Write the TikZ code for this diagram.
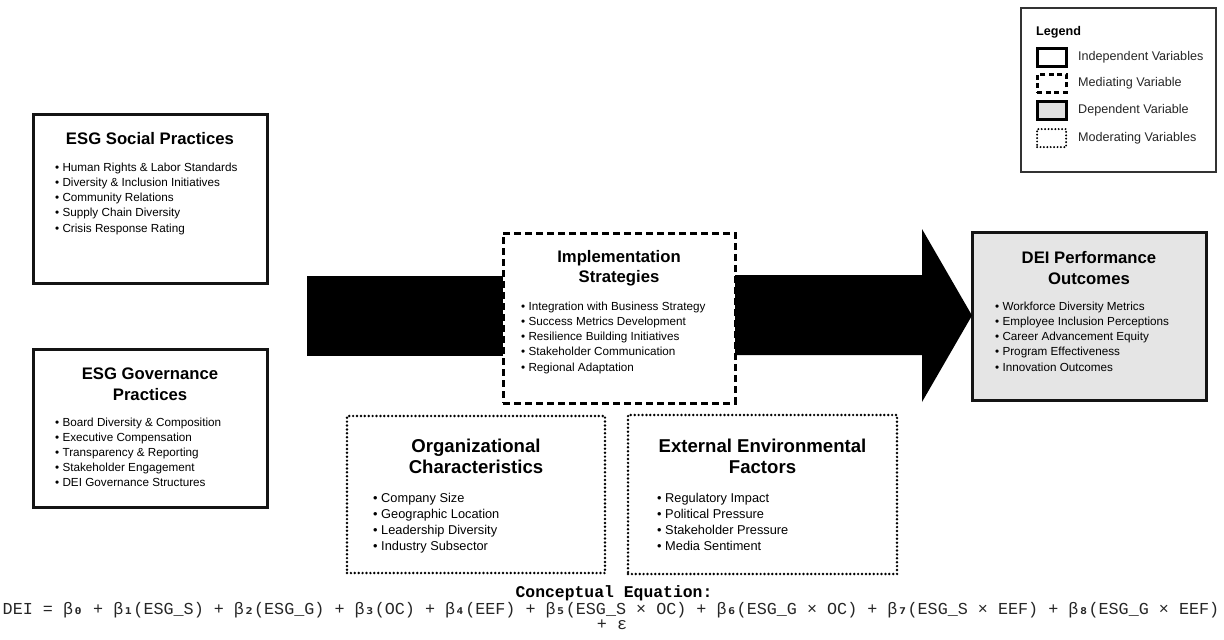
\documentclass[tikz,border=0pt]{standalone}
\usepackage{fontspec}
\setmainfont{Liberation Sans}
\newfontfamily\eqmono{Liberation Mono}
\newfontfamily\submono{DejaVu Sans Mono}
\newcommand\sbs[1]{{\submono\bfseries #1}}
\begin{document}
\begin{tikzpicture}[x=1pt,y=-1pt,
  box/.style={anchor=north west, inner sep=0pt, outer sep=0pt},
  indep/.style={box, draw=black!92, line width=3pt, fill=white},
  medi/.style={box, draw=black, line width=3pt, dash pattern=on 7pt off 4pt, fill=white},
  depv/.style={box, draw=black!92, line width=3pt, fill=black!10},
  modv/.style={box, draw=black, line width=2.7pt, dash pattern=on 0pt off 3.9pt, line cap=round, fill=white},
  ttl/.style={font=\bfseries\fontsize{16.7}{20.5}\selectfont, align=center, inner sep=0pt},
  bigttl/.style={font=\bfseries\fontsize{18.6}{21}\selectfont, align=center, inner sep=0pt},
  bul/.style={anchor=base west, font=\fontsize{11.7}{14}\selectfont, inner sep=0pt},
  bigbul/.style={anchor=base west, font=\fontsize{12.8}{15}\selectfont, inner sep=0pt},
  legtxt/.style={anchor=base west, font=\fontsize{12.6}{15}\selectfont, inner sep=0pt, text=black!85},
  sw/.style={anchor=north west, inner sep=0pt, minimum width=29pt, minimum height=18pt},
  eqf/.style={font=\eqmono\fontsize{16.75}{16}\selectfont, inner sep=0pt, text=black!85}
]
\useasboundingbox[fill=white] (0,0) rectangle (1224,640);

% ---------- boxes ----------
\node[indep, minimum width=234pt, minimum height=169pt] (soc) at (33,114) {};
\node[indep, minimum width=234pt, minimum height=158pt] (gov) at (33,349) {};
\node[depv, minimum width=234pt, minimum height=168pt] (dei) at (972,232) {};

% ---------- block arrows ----------
\coordinate (src) at (307,316);
\coordinate (hb1) at (922,275);
\coordinate (hb2) at (922,229);
\coordinate (hb3) at (922,402);
\coordinate (hb4) at (922,355);
\coordinate (tip) at (972,315.5);
\coordinate (sh1) at (735,275);
\coordinate (sh2) at (735,355);
\draw[line width=80pt, black] (src) -- (505,316);
\fill[black] (sh1) -- (hb1) -- (hb2) -- (tip) -- (hb3) -- (hb4) -- (sh2) -- cycle;

\node[medi, minimum width=232pt, minimum height=170pt] (impl) at (503,233) {};
\node[modv, minimum width=258pt, minimum height=157pt] (org) at (347,416) {};
\node[modv, minimum width=269pt, minimum height=159pt] (ext) at (628,415) {};

% ---------- titles ----------
\node[ttl] (socT) at (150,139) {ESG Social Practices};
\node[ttl] (govT) at (150,384) {ESG Governance\\Practices};
\node[ttl] (implT) at (619,268) {Implementation\\Strategies};
\node[ttl] (deiT) at (1089,268) {DEI Performance\\Outcomes};
\node[bigttl] (orgT) at (476,456.5) {Organizational\\Characteristics};
\node[bigttl] (extT) at (762.5,456.5) {External Environmental\\Factors};

% ---------- bullet lists ----------
\foreach \t [count=\i from 0] in {Human Rights \& Labor Standards, Diversity \& Inclusion Initiatives, Community Relations, Supply Chain Diversity, Crisis Response Rating}
  \node[bul] (socb\i) at (55,171.2+15.2*\i) {• \t};
\foreach \t [count=\i from 0] in {Board Diversity \& Composition, Executive Compensation, Transparency \& Reporting, Stakeholder Engagement, DEI Governance Structures}
  \node[bul] (govb\i) at (55,426.2+15*\i) {• \t};
\foreach \t [count=\i from 0] in {Integration with Business Strategy, Success Metrics Development, Resilience Building Initiatives, Stakeholder Communication, Regional Adaptation}
  \node[bul] (implb\i) at (521,310.2+15.2*\i) {• \t};
\foreach \t [count=\i from 0] in {Workforce Diversity Metrics, Employee Inclusion Perceptions, Career Advancement Equity, Program Effectiveness, Innovation Outcomes}
  \node[bul] (deib\i) at (995,310.2+15.2*\i) {• \t};
\foreach \t [count=\i from 0] in {Company Size, Geographic Location, Leadership Diversity, Industry Subsector}
  \node[bigbul] (orgb\i) at (373,502.6+16*\i) {• \t};
\foreach \t [count=\i from 0] in {Regulatory Impact, Political Pressure, Stakeholder Pressure, Media Sentiment}
  \node[bigbul] (extb\i) at (657,502.6+16*\i) {• \t};

% ---------- legend ----------
\node[box, draw=black!80, line width=1.5pt, fill=white, minimum width=195pt, minimum height=164pt] (leg) at (1021,8) {};
\node[anchor=base west, inner sep=0pt, font=\bfseries\fontsize{12.6}{15}\selectfont] (legT) at (1036,35.4) {Legend};
\node[sw, draw=black, line width=2.6pt] (sw1) at (1036,47) {};
\node[sw, draw=black, line width=2.6pt, dash pattern=on 5pt off 3.5pt] (sw2) at (1036,73) {};
\node[sw, draw=black, line width=2.6pt, fill=black!12] (sw3) at (1036,100) {};
\node[sw, draw=black, line width=2.2pt, dash pattern=on 0pt off 3.4pt, line cap=round] (sw4) at (1036,128) {};
\node[legtxt] (l1) at (1078,60.5) {Independent Variables};
\node[legtxt] (l2) at (1078,86.5) {Mediating Variable};
\node[legtxt] (l3) at (1078,113.5) {Dependent Variable};
\node[legtxt] (l4) at (1078,141.5) {Moderating Variables};

% ---------- equation ----------
\node[font=\eqmono\bfseries\fontsize{16.4}{16}\selectfont, inner sep=0pt] (eqT) at (614,593) {Conceptual Equation:};
\node[eqf] (eq) at (611,610)
  {DEI = β\sbs{₀} + β\sbs{₁}(ESG\_S) + β\sbs{₂}(ESG\_G) + β\sbs{₃}(OC) + β\sbs{₄}(EEF) + β\sbs{₅}(ESG\_S × OC) + β\sbs{₆}(ESG\_G × OC) + β\sbs{₇}(ESG\_S × EEF) + β\sbs{₈}(ESG\_G × EEF)};
\node[eqf] (eps) at (612,625) {+ ε};
\end{tikzpicture}
\end{document}
